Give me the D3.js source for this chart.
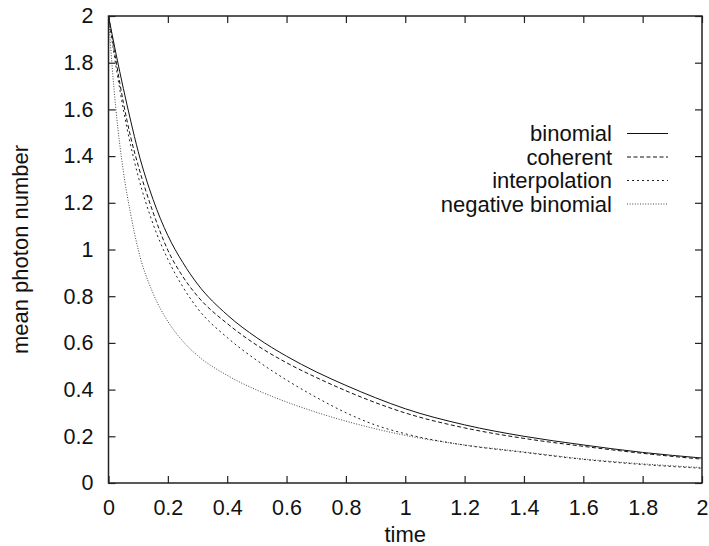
<!DOCTYPE html>
<html>
<head>
<meta charset="utf-8">
<script src="https://cdn.jsdelivr.net/npm/d3@7"></script>
<style>
  body { margin: 0; background: #fff; }
  svg { display: block; }
  text { font-family: "Liberation Sans", Arial, Helvetica, sans-serif; fill: #111; }
</style>
</head>
<body>
<div id="chart"></div>
<script>
// values
var times = [0, 0.025, 0.05, 0.075, 0.1, 0.15, 0.2, 0.25, 0.3, 0.4, 0.5, 0.6, 0.7, 0.8, 0.9, 1.0, 1.2, 1.4, 1.6, 1.8, 2.0];
var binomial = [2, 1.84, 1.69, 1.55, 1.42, 1.215, 1.06, 0.945, 0.852, 0.72, 0.622, 0.543, 0.476, 0.418, 0.365, 0.318, 0.249, 0.200, 0.163, 0.131, 0.107];
var coherent = [2, 1.81, 1.63, 1.48, 1.36, 1.16, 0.997, 0.885, 0.80, 0.683, 0.59, 0.515, 0.452, 0.395, 0.344, 0.300, 0.236, 0.191, 0.157, 0.127, 0.102];
var interpolation = [2, 1.786, 1.6, 1.444, 1.314, 1.11, 0.958, 0.841, 0.748, 0.623, 0.525, 0.441, 0.367, 0.301, 0.248, 0.211, 0.162, 0.131, 0.101, 0.079, 0.063];
var negTimes = [0, 0.0125, 0.025, 0.05, 0.075, 0.1, 0.15, 0.2, 0.25, 0.3, 0.4, 0.5, 0.6, 0.7, 0.8, 0.9, 1.0, 1.2, 1.4, 1.6, 1.8, 2.0];
var negativeBinomial = [2, 1.78, 1.60, 1.335, 1.15, 1.0, 0.813, 0.692, 0.608, 0.546, 0.461, 0.398, 0.347, 0.303, 0.265, 0.232, 0.204, 0.163, 0.133, 0.103, 0.082, 0.066];

var xTicks = [0, 0.2, 0.4, 0.6, 0.8, 1, 1.2, 1.4, 1.6, 1.8, 2];
var yTicks = [0, 0.2, 0.4, 0.6, 0.8, 1, 1.2, 1.4, 1.6, 1.8, 2];

var series = [
  { name: "binomial", t: times, v: binomial, dash: null, color: "#111" },
  { name: "coherent", t: times, v: coherent, dash: "4,2.5", color: "#111" },
  { name: "interpolation", t: times, v: interpolation, dash: "2,3", color: "#222" },
  { name: "negative binomial", t: negTimes, v: negativeBinomial, dash: "1,1.6", color: "#444" }
];

var W = 709, H = 546;
var plotL = 108.5, plotR = 702, plotT = 16, plotB = 483;

var svg = d3.select("#chart").append("svg")
  .attr("width", W)
  .attr("height", H);

var x = d3.scaleLinear().domain([0, 2]).range([plotL, plotR]);
var y = d3.scaleLinear().domain([0, 2]).range([plotB, plotT]);

var tickLen = 7;

// axes, gnuplot style: inward ticks on all four sides
svg.append("g")
  .attr("transform", "translate(0," + plotB + ")")
  .call(d3.axisBottom(x).tickValues(xTicks).tickSizeInner(-tickLen).tickSizeOuter(0).tickPadding(17)
    .tickFormat(d3.format("")))
  .call(function (g) {
    g.select(".domain").remove();
    g.selectAll("text").attr("font-size", 21.5).attr("fill", "#111");
  });

svg.append("g")
  .attr("transform", "translate(0," + plotT + ")")
  .call(d3.axisTop(x).tickValues(xTicks).tickSizeInner(-tickLen).tickSizeOuter(0).tickFormat(""))
  .call(function (g) { g.select(".domain").remove(); });

svg.append("g")
  .attr("transform", "translate(" + plotL + ",0)")
  .call(d3.axisLeft(y).tickValues(yTicks).tickSizeInner(-tickLen).tickSizeOuter(0).tickPadding(15)
    .tickFormat(d3.format("")))
  .call(function (g) {
    g.select(".domain").remove();
    g.selectAll("text").attr("font-size", 21.5).attr("fill", "#111");
  });

svg.append("g")
  .attr("transform", "translate(" + plotR + ",0)")
  .call(d3.axisRight(y).tickValues(yTicks).tickSizeInner(-tickLen).tickSizeOuter(0).tickFormat(""))
  .call(function (g) { g.select(".domain").remove(); });

svg.selectAll(".tick line").attr("stroke", "#222").attr("stroke-width", 1.2);

// curves
var line = d3.line()
  .x(function (d) { return x(d[0]); })
  .y(function (d) { return y(d[1]); })
  .curve(d3.curveMonotoneX);

series.forEach(function (s) {
  var pts = s.t.map(function (t, i) { return [t, s.v[i]]; });
  svg.append("path")
    .attr("d", line(pts))
    .attr("fill", "none")
    .attr("stroke", s.color)
    .attr("stroke-width", 1)
    .attr("stroke-dasharray", s.dash);
});

// frame
svg.append("rect")
  .attr("x", plotL)
  .attr("y", plotT)
  .attr("width", plotR - plotL)
  .attr("height", plotB - plotT)
  .attr("fill", "none")
  .attr("stroke", "#222")
  .attr("stroke-width", 1.5);

// legend
var legY = d3.scaleLinear().domain([0, 3]).range([133.5, 204]);
var leg = svg.append("g");
series.forEach(function (s, i) {
  leg.append("text")
    .attr("x", 612)
    .attr("y", legY(i))
    .attr("dy", "0.36em")
    .attr("text-anchor", "end")
    .attr("font-size", 22)
    .text(s.name);
  leg.append("line")
    .attr("x1", 627).attr("x2", 668)
    .attr("y1", legY(i)).attr("y2", legY(i))
    .attr("stroke", s.color)
    .attr("stroke-width", 1)
    .attr("stroke-dasharray", s.dash);
});

// axis titles
svg.append("text")
  .attr("x", (plotL + plotR) / 2)
  .attr("y", 542)
  .attr("text-anchor", "middle")
  .attr("font-size", 22)
  .text("time");

svg.append("text")
  .attr("transform", "translate(28," + ((plotT + plotB) / 2) + ") rotate(-90)")
  .attr("text-anchor", "middle")
  .attr("font-size", 22)
  .text("mean photon number");
</script>
</body>
</html>
